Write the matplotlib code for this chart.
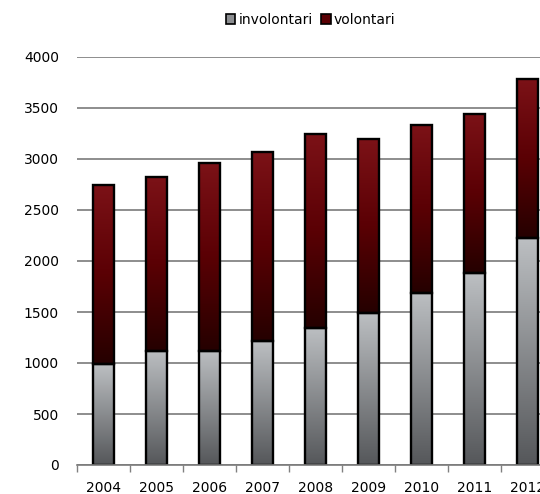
import numpy as np
import matplotlib
matplotlib.use("Agg")
import matplotlib.pyplot as plt
from matplotlib.colors import LinearSegmentedColormap
from matplotlib.patches import Rectangle

years = ["2004", "2005", "2006", "2007", "2008", "2009", "2010", "2011", "2012"]
involontari = [990, 1120, 1118, 1215, 1345, 1490, 1688, 1878, 2225]
totali = [2745, 2820, 2965, 3070, 3245, 3193, 3338, 3445, 3784]
volontari = [t - i for t, i in zip(totali, involontari)]
yticks = [0, 500, 1000, 1500, 2000, 2500, 3000, 3500, 4000]

gray_cmap = LinearSegmentedColormap.from_list("g", ["#55575a", "#bcbfc2"])
red_cmap = LinearSegmentedColormap.from_list("r", ["#250000", "#5a0004", "#7c1217"])

plt.rcParams['font.family'] = ['DejaVu Sans']
fig = plt.figure(figsize=(5.4, 4.94), dpi=100)
ax = fig.add_axes([77/540, 1-465/494, (554-77)/540, (465-57)/494])

x = np.arange(len(years))
w = 0.41
grad = np.linspace(0, 1, 256).reshape(-1, 1)

def gradient_bars(bottoms, heights, cmap, z):
    bars = ax.bar(x, heights, w, bottom=bottoms, facecolor='none',
                  edgecolor='black', linewidth=1.7, zorder=z + 1)
    for b in bars:
        x0, y0 = b.get_x(), b.get_y()
        im = ax.imshow(grad, cmap=cmap, aspect='auto', origin='lower',
                       extent=[x0, x0 + b.get_width(), y0, y0 + b.get_height()],
                       zorder=z)
        im.set_clip_path(b)
    return bars

gradient_bars([0]*len(x), involontari, gray_cmap, 3)
gradient_bars(involontari, volontari, red_cmap, 3)

ax.set_xlim(-0.5, len(years) - 0.5)
ax.set_ylim(0, 4000)
ax.set_yticks(yticks)
ax.set_yticklabels([str(v) for v in yticks], fontsize=10, color='#000000')
ax.set_xticks(x)
ax.set_xticklabels(years, fontsize=10)
ax.set_xticks(np.arange(-0.5, len(years), 1.0), minor=True)
ax.tick_params(axis='x', which='major', length=0, pad=11.5)
ax.tick_params(axis='x', which='minor', length=5, color='#808080', width=1)
ax.tick_params(axis='y', length=0, pad=13)
ax.yaxis.grid(True, color='#7a7a7a', linewidth=1.2)
ax.set_axisbelow(True)
for s in ['top', 'right', 'left']:
    ax.spines[s].set_visible(False)
ax.spines['bottom'].set_color('#7a7a7a')
ax.spines['bottom'].set_linewidth(1.2)
ax.spines['bottom'].set_zorder(10)

handles = [Rectangle((0, 0), 1, 1, facecolor='#8c8e91', edgecolor='black', linewidth=1.2),
           Rectangle((0, 0), 1, 1, facecolor='#5a0004', edgecolor='black', linewidth=1.2)]
fig.legend(handles, ['involontari', 'volontari'], loc='center',
           bbox_to_anchor=(311/540, 1-20/494), ncol=2, frameon=False,
           fontsize=10, handlelength=0.65, handleheight=0.65,
           handletextpad=0.25, columnspacing=0.6)

fig.savefig("out.png", dpi=100)
